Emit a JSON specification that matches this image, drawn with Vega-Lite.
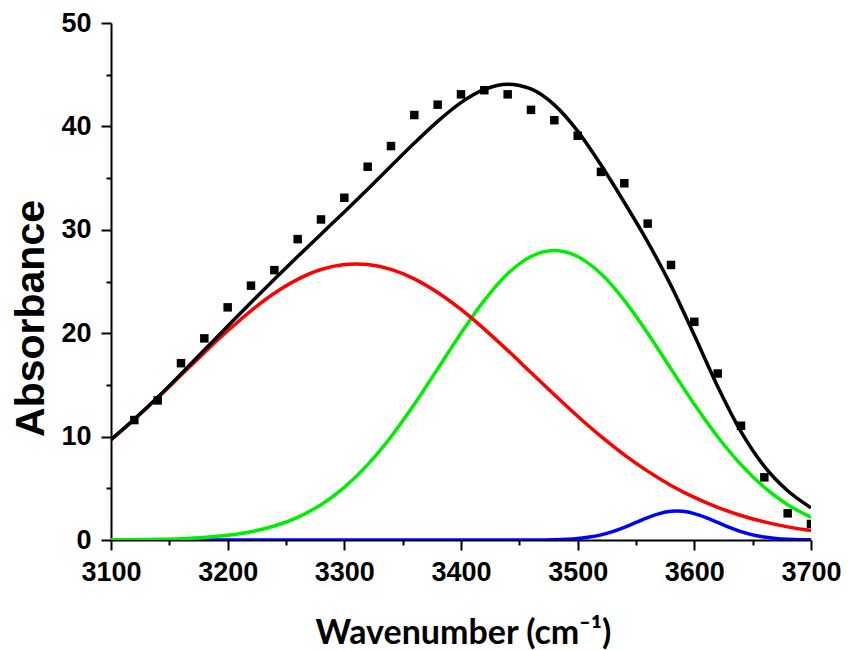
{
  "$schema": "https://vega.github.io/schema/vega-lite/v6.json",
  "width": 700,
  "height": 517,
  "autosize": {"type": "none"},
  "padding": {"left": 111, "top": 23, "right": 37, "bottom": 110},
  "config": {"view": {"stroke": null}, "background": "white"},
  "resolve": {"axis": {"x": "independent", "y": "independent"}},
  "datasets": {
    "curves": [
      {"w": 3100, "s": "red", "y": 9.70}, {"w": 3120, "s": "red", "y": 11.66}, {"w": 3140, "s": "red", "y": 13.75}, {"w": 3160, "s": "red", "y": 15.93}, {"w": 3180, "s": "red", "y": 18.12}, {"w": 3200, "s": "red", "y": 20.23}, {"w": 3220, "s": "red", "y": 22.17}, {"w": 3240, "s": "red", "y": 23.86}, {"w": 3260, "s": "red", "y": 25.21}, {"w": 3280, "s": "red", "y": 26.16}, {"w": 3300, "s": "red", "y": 26.64}, {"w": 3310, "s": "red", "y": 26.70}, {"w": 3320, "s": "red", "y": 26.64}, {"w": 3340, "s": "red", "y": 26.17}, {"w": 3360, "s": "red", "y": 25.26}, {"w": 3380, "s": "red", "y": 23.94}, {"w": 3400, "s": "red", "y": 22.30}, {"w": 3420, "s": "red", "y": 20.40}, {"w": 3440, "s": "red", "y": 18.34}, {"w": 3460, "s": "red", "y": 16.19}, {"w": 3480, "s": "red", "y": 14.05}, {"w": 3500, "s": "red", "y": 11.97}, {"w": 3520, "s": "red", "y": 10.02}, {"w": 3540, "s": "red", "y": 8.24}, {"w": 3560, "s": "red", "y": 6.66}, {"w": 3580, "s": "red", "y": 5.28}, {"w": 3600, "s": "red", "y": 4.12}, {"w": 3620, "s": "red", "y": 3.16}, {"w": 3640, "s": "red", "y": 2.37}, {"w": 3660, "s": "red", "y": 1.75}, {"w": 3680, "s": "red", "y": 1.27}, {"w": 3700, "s": "red", "y": 0.91},
      {"w": 3100, "s": "green", "y": 0.014}, {"w": 3120, "s": "green", "y": 0.031}, {"w": 3140, "s": "green", "y": 0.064}, {"w": 3160, "s": "green", "y": 0.128}, {"w": 3180, "s": "green", "y": 0.246}, {"w": 3200, "s": "green", "y": 0.453}, {"w": 3220, "s": "green", "y": 0.80}, {"w": 3240, "s": "green", "y": 1.353}, {"w": 3260, "s": "green", "y": 2.196}, {"w": 3280, "s": "green", "y": 3.416}, {"w": 3300, "s": "green", "y": 5.09}, {"w": 3320, "s": "green", "y": 7.29}, {"w": 3340, "s": "green", "y": 9.99}, {"w": 3360, "s": "green", "y": 13.13}, {"w": 3380, "s": "green", "y": 16.55}, {"w": 3400, "s": "green", "y": 20.00}, {"w": 3420, "s": "green", "y": 23.17}, {"w": 3440, "s": "green", "y": 25.74}, {"w": 3460, "s": "green", "y": 27.42}, {"w": 3480, "s": "green", "y": 28.00}, {"w": 3500, "s": "green", "y": 27.42}, {"w": 3520, "s": "green", "y": 25.74}, {"w": 3540, "s": "green", "y": 23.17}, {"w": 3560, "s": "green", "y": 20.00}, {"w": 3580, "s": "green", "y": 16.55}, {"w": 3600, "s": "green", "y": 13.13}, {"w": 3620, "s": "green", "y": 9.99}, {"w": 3640, "s": "green", "y": 7.29}, {"w": 3660, "s": "green", "y": 5.09}, {"w": 3680, "s": "green", "y": 3.416}, {"w": 3700, "s": "green", "y": 2.196},
      {"w": 3100, "s": "blue", "y": 0}, {"w": 3200, "s": "blue", "y": 0}, {"w": 3300, "s": "blue", "y": 0}, {"w": 3400, "s": "blue", "y": 0}, {"w": 3440, "s": "blue", "y": 0.001}, {"w": 3460, "s": "blue", "y": 0.005}, {"w": 3480, "s": "blue", "y": 0.031}, {"w": 3500, "s": "blue", "y": 0.147}, {"w": 3510, "s": "blue", "y": 0.282}, {"w": 3520, "s": "blue", "y": 0.499}, {"w": 3530, "s": "blue", "y": 0.815}, {"w": 3540, "s": "blue", "y": 1.225}, {"w": 3550, "s": "blue", "y": 1.698}, {"w": 3560, "s": "blue", "y": 2.169}, {"w": 3570, "s": "blue", "y": 2.554}, {"w": 3580, "s": "blue", "y": 2.771}, {"w": 3585, "s": "blue", "y": 2.80}, {"w": 3590, "s": "blue", "y": 2.771}, {"w": 3600, "s": "blue", "y": 2.554}, {"w": 3610, "s": "blue", "y": 2.169}, {"w": 3620, "s": "blue", "y": 1.698}, {"w": 3630, "s": "blue", "y": 1.225}, {"w": 3640, "s": "blue", "y": 0.815}, {"w": 3650, "s": "blue", "y": 0.499}, {"w": 3660, "s": "blue", "y": 0.282}, {"w": 3670, "s": "blue", "y": 0.147}, {"w": 3680, "s": "blue", "y": 0.070}, {"w": 3690, "s": "blue", "y": 0.031}, {"w": 3700, "s": "blue", "y": 0.013},
      {"w": 3100, "s": "black", "y": 9.71}, {"w": 3120, "s": "black", "y": 11.69}, {"w": 3140, "s": "black", "y": 13.81}, {"w": 3160, "s": "black", "y": 16.06}, {"w": 3180, "s": "black", "y": 18.37}, {"w": 3200, "s": "black", "y": 20.68}, {"w": 3220, "s": "black", "y": 22.97}, {"w": 3240, "s": "black", "y": 25.21}, {"w": 3260, "s": "black", "y": 27.41}, {"w": 3280, "s": "black", "y": 29.58}, {"w": 3300, "s": "black", "y": 31.73}, {"w": 3320, "s": "black", "y": 33.93}, {"w": 3340, "s": "black", "y": 36.16}, {"w": 3360, "s": "black", "y": 38.39}, {"w": 3380, "s": "black", "y": 40.49}, {"w": 3400, "s": "black", "y": 42.30}, {"w": 3420, "s": "black", "y": 43.57}, {"w": 3440, "s": "black", "y": 44.08}, {"w": 3460, "s": "black", "y": 43.62}, {"w": 3480, "s": "black", "y": 42.08}, {"w": 3500, "s": "black", "y": 39.54}, {"w": 3520, "s": "black", "y": 36.26}, {"w": 3540, "s": "black", "y": 32.64}, {"w": 3560, "s": "black", "y": 28.83}, {"w": 3580, "s": "black", "y": 24.60}, {"w": 3600, "s": "black", "y": 19.80}, {"w": 3620, "s": "black", "y": 14.85}, {"w": 3640, "s": "black", "y": 10.48}, {"w": 3660, "s": "black", "y": 7.12}, {"w": 3680, "s": "black", "y": 4.76}, {"w": 3700, "s": "black", "y": 3.12}
    ],
    "points": [
      {"w": 3120, "y": 11.6}, {"w": 3140, "y": 13.5}, {"w": 3160, "y": 17.1}, {"w": 3180, "y": 19.5}, {"w": 3200, "y": 22.5}, {"w": 3220, "y": 24.6}, {"w": 3240, "y": 26.1}, {"w": 3260, "y": 29.1}, {"w": 3280, "y": 31.0}, {"w": 3300, "y": 33.1}, {"w": 3320, "y": 36.1}, {"w": 3340, "y": 38.1}, {"w": 3360, "y": 41.1}, {"w": 3380, "y": 42.1}, {"w": 3400, "y": 43.1}, {"w": 3420, "y": 43.5}, {"w": 3440, "y": 43.1}, {"w": 3460, "y": 41.6}, {"w": 3480, "y": 40.6}, {"w": 3500, "y": 39.1}, {"w": 3520, "y": 35.6}, {"w": 3540, "y": 34.5}, {"w": 3560, "y": 30.6}, {"w": 3580, "y": 26.6}, {"w": 3600, "y": 21.1}, {"w": 3620, "y": 16.1}, {"w": 3640, "y": 11.05}, {"w": 3660, "y": 6.06}, {"w": 3680, "y": 2.58}, {"w": 3700, "y": 1.55}
    ]
  },
  "layer": [
    {
      "data": {"name": "curves"},
      "transform": [{"filter": "datum.s === 'blue'"}],
      "mark": {"type": "line", "color": "#0000ff", "strokeWidth": 3.5, "interpolate": "monotone", "clip": true},
      "encoding": {
        "x": {"field": "w", "type": "quantitative", "scale": {"domain": [3100, 3700], "nice": false, "zero": false},
          "axis": {"orient": "bottom", "title": null, "values": [3150, 3250, 3350, 3450, 3550, 3650], "labels": false, "domain": false, "grid": false, "ticks": true, "tickSize": 5, "tickWidth": 2, "tickColor": "black"}},
        "y": {"field": "y", "type": "quantitative", "scale": {"domain": [0, 50], "nice": false},
          "axis": {"orient": "left", "title": null, "values": [5, 15, 25, 35, 45], "labels": false, "domain": false, "grid": false, "ticks": true, "tickSize": 5, "tickWidth": 2, "tickColor": "black"}}
      }
    },
    {
      "data": {"name": "curves"},
      "transform": [{"filter": "datum.s === 'green'"}],
      "mark": {"type": "line", "color": "#00ee00", "strokeWidth": 3.5, "interpolate": "monotone", "clip": true},
      "encoding": {
        "x": {"field": "w", "type": "quantitative", "scale": {"domain": [3100, 3700], "nice": false, "zero": false},
          "axis": {
            "orient": "bottom",
            "title": "Wavenumber (cm⁻¹)",
            "values": [3100, 3200, 3300, 3400, 3500, 3600, 3700],
            "labelExpr": "'' + datum.value",
            "labelFont": "Liberation Sans", "labelFontWeight": "bold", "labelFontSize": 27, "labelColor": "black",
            "labelPadding": 9, "labelFlush": false, "labelOverlap": false,
            "ticks": true, "tickSize": 10, "tickWidth": 2, "tickColor": "black", "domainWidth": 2, "domainColor": "black", "grid": false,
            "titleFont": "Lato", "titleFontWeight": "bold", "titleFontSize": 34, "titleColor": "black",
            "titleX": 352, "titleY": 103, "titleBaseline": "alphabetic", "titleAlign": "center"
          }},
        "y": {"field": "y", "type": "quantitative", "scale": {"domain": [0, 50], "nice": false},
          "axis": {
            "orient": "left",
            "title": "Absorbance",
            "values": [0, 10, 20, 30, 40, 50],
            "labelExpr": "'' + datum.value",
            "labelFont": "Liberation Sans", "labelFontWeight": "bold", "labelFontSize": 27, "labelColor": "black",
            "labelPadding": 10, "labelFlush": false, "labelOverlap": false,
            "ticks": true, "tickSize": 10, "tickWidth": 2, "tickColor": "black", "domainWidth": 2, "domainColor": "black", "grid": false,
            "titleFont": "Liberation Sans", "titleFontWeight": "bold", "titleFontSize": 41, "titleColor": "black",
            "titleX": -68, "titleY": 295, "titleBaseline": "alphabetic", "titleAlign": "center", "titleAngle": -90
          }}
      }
    },
    {
      "data": {"name": "curves"},
      "transform": [{"filter": "datum.s === 'red'"}],
      "mark": {"type": "line", "color": "#ff0000", "strokeWidth": 3.5, "interpolate": "monotone", "clip": true},
      "encoding": {
        "x": {"field": "w", "type": "quantitative", "scale": {"domain": [3100, 3700], "nice": false, "zero": false}, "axis": null},
        "y": {"field": "y", "type": "quantitative", "scale": {"domain": [0, 50], "nice": false}, "axis": null}
      }
    },
    {
      "data": {"name": "curves"},
      "transform": [{"filter": "datum.s === 'black'"}],
      "mark": {"type": "line", "color": "#000000", "strokeWidth": 3.5, "interpolate": "monotone", "clip": true},
      "encoding": {
        "x": {"field": "w", "type": "quantitative", "scale": {"domain": [3100, 3700], "nice": false, "zero": false}, "axis": null},
        "y": {"field": "y", "type": "quantitative", "scale": {"domain": [0, 50], "nice": false}, "axis": null}
      }
    },
    {
      "data": {"name": "points"},
      "mark": {"type": "square", "color": "#000000", "filled": true, "opacity": 1, "size": 72, "clip": true},
      "encoding": {
        "x": {"field": "w", "type": "quantitative", "scale": {"domain": [3100, 3700], "nice": false, "zero": false}, "axis": null},
        "y": {"field": "y", "type": "quantitative", "scale": {"domain": [0, 50], "nice": false}, "axis": null}
      }
    }
  ]
}
